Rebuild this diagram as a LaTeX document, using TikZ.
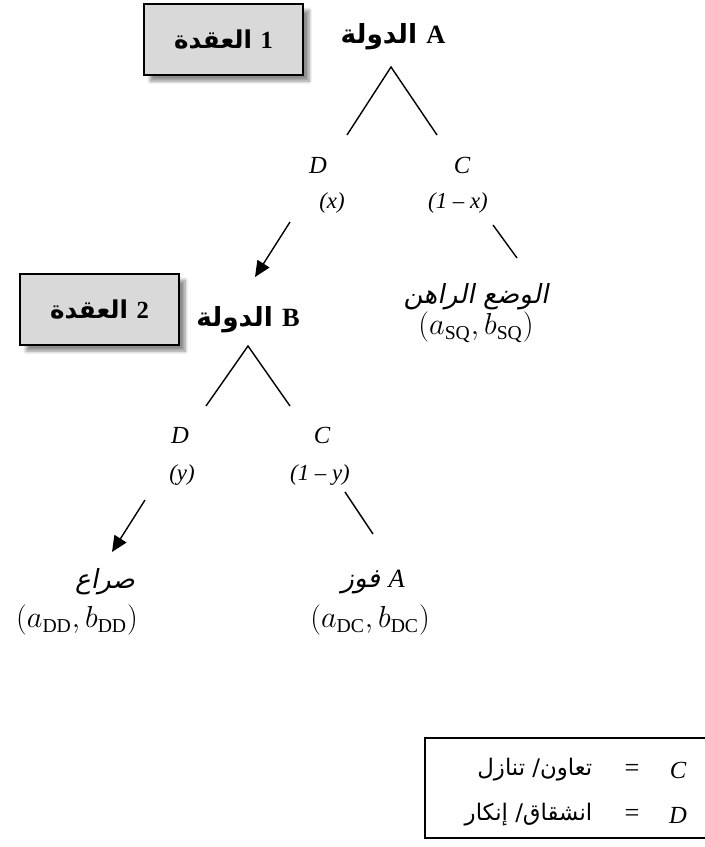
\documentclass[tikz,border=0pt]{standalone}
\usepackage{fontspec}
\setmainfont{Liberation Serif}
\newfontfamily\arabicfont[Script=Arabic]{DejaVu Sans}
\newfontfamily\arabicit[Script=Arabic,FakeSlant=0.2]{DejaVu Sans}
\TeXXeTstate=1
\usetikzlibrary{arrows.meta,shadows.blur}
\begin{document}
\begin{tikzpicture}[x=0.02cm, y=-0.02cm, line width=0.8pt,
    nodebox/.style={draw, fill=black!15, line width=0.9pt, minimum width=3.18cm, minimum height=1.42cm,
      font=\arabicfont\bfseries\fontsize{14}{17}\selectfont,
      blur shadow={shadow xshift=3.5pt, shadow yshift=-3.5pt, shadow blur steps=8, shadow opacity=45}},
    player/.style={font=\arabicfont\bfseries\fontsize{15}{18}\selectfont, inner sep=1pt},
    move/.style={font=\itshape\fontsize{14}{16}\selectfont, inner sep=1pt},
    prob/.style={font=\itshape\fontsize{13}{15}\selectfont, inner sep=1pt},
    outcome/.style={font=\arabicit\fontsize{15}{18}\selectfont, inner sep=1pt},
    payoff/.style={font=\fontsize{16}{19}\selectfont, inner sep=1pt},
    choice/.style={-{Triangle[length=9pt, width=8pt]}}]
  \useasboundingbox (0,0) rectangle (704,847);
  % decision nodes
  \node[nodebox] (node1) at (223.5,39.5) {\beginR العقدة\endR\ {\normalfont\bfseries 1}};
  \node[nodebox] (node2) at (99.5,309.5) {\beginR العقدة\endR\ {\normalfont\bfseries 2}};
  % first stage, state A
  \node[player] (stateA) at (393,37) {\beginR الدولة\endR\ {\normalfont\bfseries A}};
  \coordinate (a0) at (391,67);
  \coordinate (a1) at (347,135);
  \coordinate (a2) at (437,135);
  \draw (a1) -- (a0) -- (a2);
  \node[move] (dA) at (318,165) {D};
  \node[prob] (xA) at (332,203) {(x)};
  \node[move] (cA) at (462,165) {C};
  \node[prob] (xcA) at (458,203) {(1 – x)};
  \coordinate (a3) at (290,222);
  \coordinate (a4) at (255,277);
  \draw[choice] (a3) -- (a4);
  \coordinate (a5) at (493,225);
  \coordinate (a6) at (517,258);
  \draw (a5) -- (a6);
  \node[outcome] (sq) at (476,297) {\beginR الوضع الراهن\endR};
  \node[payoff] (paySQ) at (476,327) {$(a_{\mathrm{SQ}},b_{\mathrm{SQ}})$};
  % second stage, state B
  \node[player] (stateB) at (248,320) {\beginR الدولة\endR\ {\normalfont\bfseries B}};
  \coordinate (b0) at (248,346);
  \coordinate (b1) at (206,406);
  \coordinate (b2) at (290,406);
  \draw (b1) -- (b0) -- (b2);
  \node[move] (dB) at (180,435) {D};
  \node[prob] (yB) at (182,475) {(y)};
  \node[move] (cB) at (322,435) {C};
  \node[prob] (ycB) at (320,475) {(1 – y)};
  \coordinate (b3) at (145,500);
  \coordinate (b4) at (112,552);
  \draw[choice] (b3) -- (b4);
  \coordinate (b5) at (345,492);
  \coordinate (b6) at (373,534);
  \draw (b5) -- (b6);
  \node[outcome] (dd) at (105,582) {\beginR صراع\endR};
  \node[payoff] (payDD) at (77,620) {$(a_{\mathrm{DD}},b_{\mathrm{DD}})$};
  \node[outcome] (dc) at (373,582) {\beginR فوز\endR\ {\normalfont\itshape A}};
  \node[payoff] (payDC) at (370,620) {$(a_{\mathrm{DC}},b_{\mathrm{DC}})$};
  % legend
  \draw[line width=1pt] (425,738) rectangle (712,838);
  \node[move] (keyC) at (678,770) {C};
  \node[font=\fontsize{15}{17}\selectfont] (eqC) at (632,770) {=};
  \node[font=\arabicfont\fontsize{13}{16}\selectfont, anchor=east, inner sep=0pt] (txtC) at (593,770) {\beginR تعاون/ تنازل\endR};
  \node[move] (keyD) at (678,815) {D};
  \node[font=\fontsize{15}{17}\selectfont] (eqD) at (632,815) {=};
  \node[font=\arabicfont\fontsize{13}{16}\selectfont, anchor=east, inner sep=0pt] (txtD) at (593,815) {\beginR انشقاق/ إنكار\endR};
\end{tikzpicture}
\end{document}
